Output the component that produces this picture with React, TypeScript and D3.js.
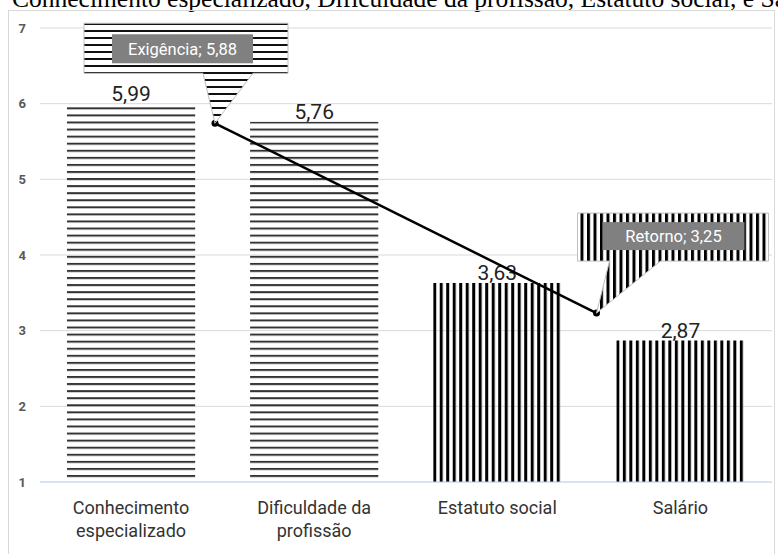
import React from "react";
import * as d3 from "d3";

const categories = ["Conhecimento especializado", "Dificuldade da profissão", "Estatuto social", "Salário"];
const categoryLines = [["Conhecimento", "especializado"], ["Dificuldade da", "profissão"], ["Estatuto social"], ["Salário"]];
const barValues = [5.99, 5.76, 3.63, 2.87];
const barPatterns = ["h", "h", "v", "v"];
const lineCategories = ["Exigência", "Retorno"];
const lineValues = [5.88, 3.25];
const yTicks = [1, 2, 3, 4, 5, 6, 7];
const titleText = "Conhecimento especializado, Dificuldade da profissão, Estatuto social, e Salário";

const W = 778, H = 554;
const plot = { left: 39.5, right: 772, top: 28, bottom: 482 };
const SANS = "Roboto, 'Noto Sans', sans-serif";

const fmt = (v: number) => d3.format(".2f")(v).replace(".", ",");

export default function App() {
  const x = d3.scaleBand<string>().domain(categories).range([plot.left, plot.right]).paddingInner(0.3).paddingOuter(0.15);
  const y = d3.scaleLinear().domain([1, 7]).range([plot.bottom, plot.top]);
  const x2 = d3.scalePoint<string>().domain(lineCategories).range([plot.left, plot.right]).padding(0.46);
  const y2 = d3.scaleLinear().domain([0.91, 7.2]).range([plot.bottom, plot.top]);

  const linePts = lineCategories.map((c, i) => [x2(c)!, y2(lineValues[i])] as [number, number]);
  const lineGen = d3.line();

  // callout layout offsets relative to the point (style, not data)
  const callouts = [
    { pat: "calloutH", box: [-131, -100, 73, -50], base: [-12, 38], inner: [-103, -89, 38, -60] },
    { pat: "calloutV", box: [-19, -100, 172, -52], base: [13, 64], inner: [6, -91, 148, -63] },
  ];

  return (
    <svg width={W} height={H} style={{ position: "absolute", left: 0, top: 0, background: "#fff" }}>
      <defs>
        {categories.map((c, i) => {
          const bx = x(c)!;
          return barPatterns[i] === "h" ? (
            <pattern key={i} id={`bp${i}`} patternUnits="userSpaceOnUse" x={bx} y={plot.bottom - 7} width={20} height={7.07}>
              <rect x={0} y={0} width={20} height={2} fill="#333" />
            </pattern>
          ) : (
            <pattern key={i} id={`bp${i}`} patternUnits="userSpaceOnUse" x={bx} y={0} width={6.5} height={20}>
              <rect x={0} y={0} width={3} height={20} fill="#000" />
            </pattern>
          );
        })}
        <pattern id="calloutH" patternUnits="userSpaceOnUse" x={0} y={2} width={20} height={7}>
          <rect x={0} y={0} width={20} height={7} fill="#fff" />
          <rect x={0} y={0} width={20} height={2} fill="#111" />
        </pattern>
        <pattern id="calloutV" patternUnits="userSpaceOnUse" x={2} y={0} width={6.5} height={20}>
          <rect x={0} y={0} width={6.5} height={20} fill="#fff" />
          <rect x={0} y={0} width={3} height={20} fill="#000" />
        </pattern>
      </defs>

      <text x={12} y={6.5} fontFamily="'Liberation Serif', 'Times New Roman', serif" fontSize={25.5} fill="#000">{titleText}</text>

      <rect x={8.5} y={10.5} width={766} height={570} fill="none" stroke="#d9d9d9" />

      {yTicks.map((t) => (
        <g key={t}>
          {t !== 1 && <line x1={40} x2={plot.right} y1={y(t)} y2={y(t)} stroke="#d9d9d9" strokeWidth={1} />}
          <text x={26} y={y(t) + 4.5} textAnchor="end" fontFamily={SANS} fontSize={13} fontWeight="bold" fill="#595959">{t}</text>
        </g>
      ))}

      {categories.map((c, i) => (
        <rect key={c} x={x(c)} y={y(barValues[i])} width={x.bandwidth()} height={y(1) - y(barValues[i])} fill={`url(#bp${i})`} />
      ))}

      <line x1={40} x2={plot.right} y1={y(1)} y2={y(1)} stroke="#a9c9ea" strokeWidth={1.2} />

      {categories.map((c, i) => (
        <text key={c} x={x(c)! + x.bandwidth() / 2} y={y(barValues[i]) - 3} textAnchor="middle" fontFamily={SANS} fontSize={21} fill="#222">{fmt(barValues[i])}</text>
      ))}

      {categories.map((c, i) => (
        <text key={c} x={x(c)! + x.bandwidth() / 2} y={514} textAnchor="middle" fontFamily={SANS} fontSize={18} fill="#333">
          {categoryLines[i].map((l, j) => (
            <tspan key={j} x={x(c)! + x.bandwidth() / 2} dy={j === 0 ? 0 : 23}>{l}</tspan>
          ))}
        </text>
      ))}

      <path d={lineGen(linePts)!} fill="none" stroke="#000" strokeWidth={2.5} />
      {linePts.map((p, i) => (
        <circle key={i} cx={p[0]} cy={p[1]} r={3.5} fill="#000" />
      ))}

      {linePts.map(([px, py], i) => {
        const co = callouts[i];
        const [l, t, r, b] = co.box;
        const d = `M${px + l},${py + t} H${px + r} V${py + b} H${px + co.base[1]} L${px},${py} L${px + co.base[0]},${py + b} H${px + l} Z`;
        const [il, it, ir, ib] = co.inner;
        return (
          <g key={i}>
            <path d={d} fill={`url(#${co.pat})`} stroke="#bfbfbf" strokeWidth={1} />
            <rect x={px + il} y={py + it} width={ir - il} height={ib - it} fill="#808080" />
            <text x={px + (il + ir) / 2} y={py + (it + ib) / 2 + 6} textAnchor="middle" fontFamily={SANS} fontSize={16.5} fill="#fff">
              {`${lineCategories[i]}; ${fmt(lineValues[i])}`}
            </text>
          </g>
        );
      })}
    </svg>
  );
}
